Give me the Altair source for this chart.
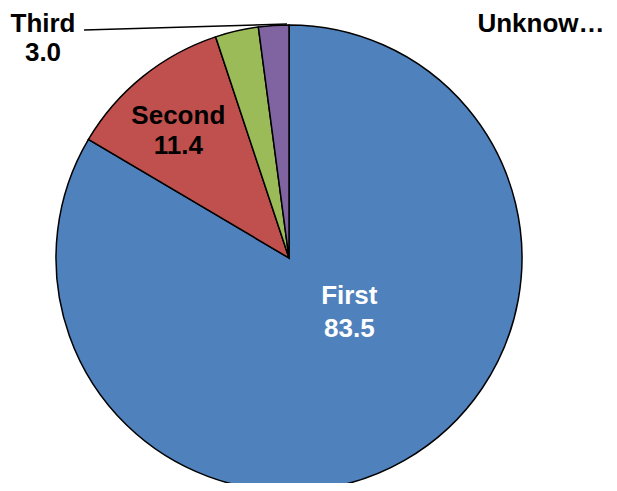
import math
import altair as alt
import pandas as pd

categories = ["First", "Second", "Third", "Unknown"]
values = [83.5, 11.4, 3.0, 2.1]
colors = ["#4F81BD", "#C0504D", "#9BBB59", "#8064A2"]

df = pd.DataFrame({"category": categories, "value": values, "idx": list(range(len(categories)))})
df["label"] = [f"{c}\n{v:.1f}" for c, v in zip(categories, values)]

CX, CY, R = 281, 250, 233
FONT = "Liberation Sans"
FS = 26

base = alt.Chart(df)

pie = base.mark_arc(radius=R, stroke="black", strokeWidth=1.5).encode(
    theta=alt.Theta("value:Q", stack=True),
    color=alt.Color("category:N", scale=alt.Scale(domain=categories, range=colors), legend=None),
    order=alt.Order("idx:Q"),
    x=alt.value(CX),
    y=alt.value(CY),
)

def inner_label(cat, rfrac, offset, color, dy, lh):
    return (
        base.transform_window(cum="sum(value)", sort=[alt.SortField("idx")])
        .transform_joinaggregate(total="sum(value)")
        .transform_calculate(ang=f"(datum.cum - datum.value/2)/datum.total*2*PI + ({offset})")
        .transform_calculate(px=f"{CX} + {rfrac * R}*sin(datum.ang)", py=f"{CY} - {rfrac * R}*cos(datum.ang)")
        .transform_filter(alt.datum.category == cat)
        .mark_text(font=FONT, fontWeight="bold", fontSize=FS, lineHeight=lh, color=color,
                   align="center", baseline="middle", lineBreak="\n", dy=dy)
        .encode(x=alt.X("px:Q", scale=None), y=alt.Y("py:Q", scale=None), text="label:N")
    )

first_lbl = inner_label("First", 0.345, -0.33, "white", -15, 33)
second_lbl = inner_label("Second", 0.73, -0.03, "black", -13, 30)

third_lbl = (
    base.transform_filter(alt.datum.category == "Third")
    .mark_text(font=FONT, fontWeight="bold", fontSize=FS, lineHeight=29, color="black",
               align="center", baseline="middle", lineBreak="\n")
    .encode(x=alt.value(35), y=alt.value(16), text="label:N")
)
leader = base.transform_filter(alt.datum.category == "Third").mark_rule(color="black", strokeWidth=1.5).encode(
    x=alt.value(76), y=alt.value(22), x2=alt.value(279), y2=alt.value(16)
)
unk_lbl = (
    base.transform_filter(alt.datum.category == "Unknown")
    .transform_calculate(short="'Unknow…'")
    .mark_text(font=FONT, fontWeight="bold", fontSize=FS, color="black", align="center", baseline="middle")
    .encode(x=alt.value(533), y=alt.value(16), text="short:N")
)

chart = alt.layer(pie, first_lbl, second_lbl, leader, third_lbl, unk_lbl).properties(
    width=601, height=475, padding=0, autosize=alt.AutoSizeParams(type="none")
).configure_view(stroke=None)

chart.save("out.html", embed_options={"renderer": "svg", "actions": False})
